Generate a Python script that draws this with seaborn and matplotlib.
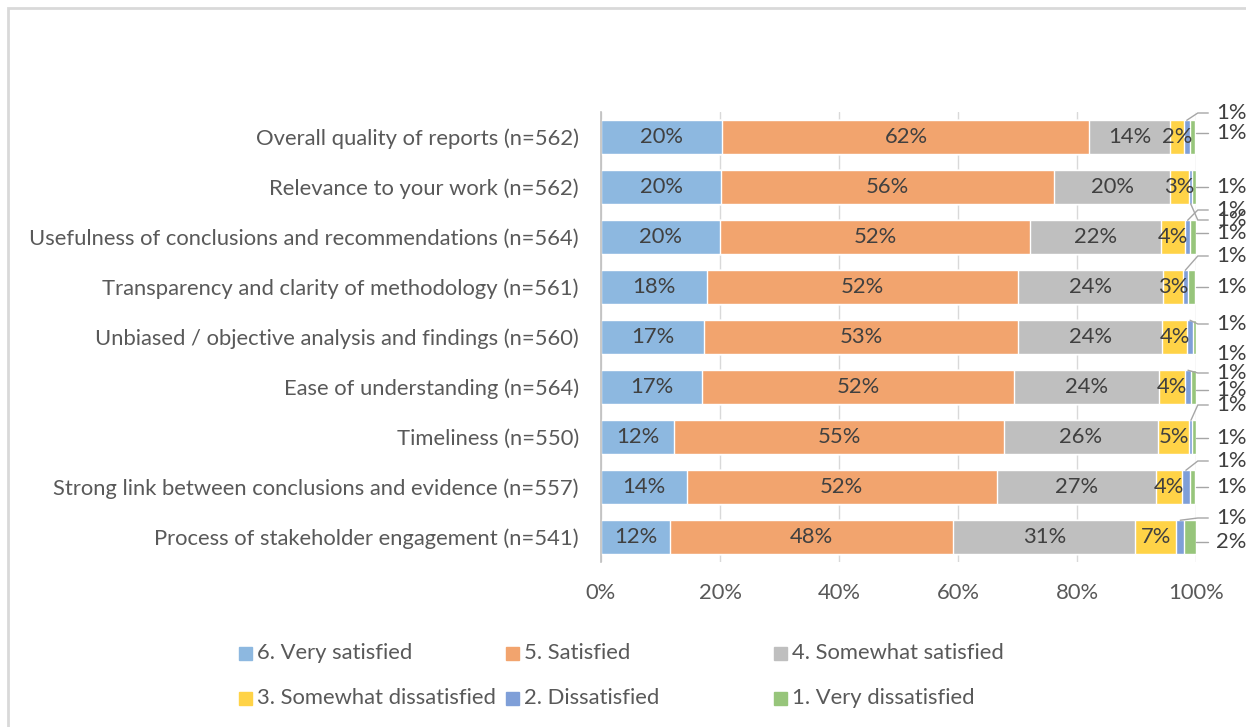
import numpy as np
import pandas as pd
import matplotlib.pyplot as plt
import seaborn as sns
from matplotlib.patches import Rectangle

# 数据（从图中读取的百分比）
items = [
    'Overall quality of reports (n=562)',
    'Relevance to your work (n=562)',
    'Usefulness of conclusions and recommendations (n=564)',
    'Transparency and clarity of methodology (n=561)',
    'Unbiased / objective analysis and findings (n=560)',
    'Ease of understanding (n=564)',
    'Timeliness (n=550)',
    'Strong link between conclusions and evidence (n=557)',
    'Process of stakeholder engagement (n=541)',
]
levels = ['6. Very satisfied', '5. Satisfied', '4. Somewhat satisfied',
          '3. Somewhat dissatisfied', '2. Dissatisfied', '1. Very dissatisfied']

very_satisfied = [20.4, 20.2, 20.0, 17.8, 17.3, 17.0, 12.3, 14.4, 11.6]
satisfied = [61.7, 55.9, 52.1, 52.3, 52.8, 52.4, 55.4, 52.1, 47.6]
somewhat_satisfied = [13.6, 19.6, 22.0, 24.4, 24.2, 24.4, 25.9, 26.7, 30.6]
somewhat_dissatisfied = [2.2, 3.1, 4.1, 3.3, 4.2, 4.3, 5.3, 4.4, 6.9]
dissatisfied = [1.1, 0.6, 0.8, 0.8, 1.0, 1.1, 0.5, 1.4, 1.3]
very_dissatisfied = [0.9, 0.6, 1.0, 1.2, 0.5, 0.8, 0.6, 0.9, 2.0]

colors = ['#8DB8E0', '#F2A46E', '#BFBFBF', '#FFD347', '#7F9FD8', '#97C57B']

# 外侧小标签的垂直偏移（像素，相对于条形中心）
blue_off_px = [-24, 33, -27, -31, -13, -14, -32, -26, -19]
green_off_px = [-4, 0, -4, 0, 17, 3, 1, 0, 5]

sns.set_theme(style='white')
plt.rcParams['font.family'] = ['Lato', 'DejaVu Sans']

W, H = 1246, 727
FS = 15.8
TXT = '#404040'

df = pd.DataFrame({'item': items,
                   levels[0]: very_satisfied, levels[1]: satisfied,
                   levels[2]: somewhat_satisfied, levels[3]: somewhat_dissatisfied,
                   levels[4]: dissatisfied, levels[5]: very_dissatisfied})
vals = df[levels].to_numpy()
cum = vals.cumsum(axis=1)

fig = plt.figure(figsize=(W / 100, H / 100), dpi=100)
ax = fig.add_axes([601 / W, 1 - 562 / H, (1196 - 601) / W, 450 / H])

# 从最长的累计值开始画，短的盖在上面，形成堆叠效果
for j in range(len(levels) - 1, -1, -1):
    sns.barplot(x=cum[:, j], y=df['item'], orient='h', color=colors[j], width=0.67,
                saturation=1, errorbar=None, ax=ax, zorder=2)

ax.set_xlim(0, 100)
ax.set_ylim(len(items) - 0.5, -0.5)
ax.set_xticks(range(0, 101, 20))
ax.set_xticklabels([f'{t}%' for t in range(0, 101, 20)], fontsize=FS, color='#595959')
ax.tick_params(axis='y', labelsize=FS, labelcolor='#595959', length=0, pad=16)
ax.tick_params(axis='x', length=0, pad=15)
ax.set_xlabel('')
ax.set_ylabel('')
ax.xaxis.grid(True, color='#D9D9D9', lw=1)
ax.yaxis.grid(False)
ax.set_axisbelow(True)
for s in ['top', 'right', 'bottom']:
    ax.spines[s].set_visible(False)
ax.spines['left'].set_color('#BFBFBF')
ax.spines['left'].set_linewidth(1.2)

# 条形内标签
for i in range(len(items)):
    for j in range(4):
        v = vals[i, j]
        ax.text(cum[i, j] - v / 2, i, f'{int(v + 0.5)}%', ha='center', va='center',
                fontsize=FS, color=TXT, zorder=5)

# 右侧小标签及引线
lab_x = (1216 - 601) / 5.95
for i in range(len(items)):
    # 2. Dissatisfied
    v = vals[i, 4]
    ly = i + blue_off_px[i] / 50
    mid = cum[i, 4] - v / 2
    edge = i - 0.335 if blue_off_px[i] < 0 else i + 0.335
    ax.plot([mid, 100.3, lab_x - 1.3], [edge, ly, ly], color='#A6A6A6', lw=1,
            clip_on=False, zorder=4)
    ax.text(lab_x, ly, f'{int(v + 0.5)}%', ha='left', va='center', fontsize=FS,
            color=TXT, clip_on=False)
    # 1. Very dissatisfied
    v = vals[i, 5]
    ly = i + green_off_px[i] / 50
    if abs(green_off_px[i]) < 15:
        ax.plot([100, lab_x - 1.3], [ly, ly], color='#A6A6A6', lw=1, clip_on=False, zorder=4)
    ax.text(lab_x, ly, f'{int(v + 0.5)}%', ha='left', va='center', fontsize=FS,
            color=TXT, clip_on=False)

# 图例（三列两行）
leg_x = [245, 512.5, 780.5]
leg_y = [653, 698]
for j, (lev, c) in enumerate(zip(levels, colors)):
    cx, cy = leg_x[j % 3], leg_y[j // 3]
    fig.patches.append(Rectangle(((cx - 6.5) / W, 1 - (cy + 6.5) / H), 13 / W, 13 / H,
                                 transform=fig.transFigure, color=c))
    fig.text((cx + 12) / W, 1 - cy / H, lev, ha='left', va='center', fontsize=FS,
             color='#595959')

# 图表区边框
fig.patches.append(Rectangle((8 / W, -0.01), 1.0, 1 - 8 / H + 0.01, transform=fig.transFigure,
                             fill=False, edgecolor='#D9D9D9', lw=2))

fig.savefig('out.png', dpi=100)
